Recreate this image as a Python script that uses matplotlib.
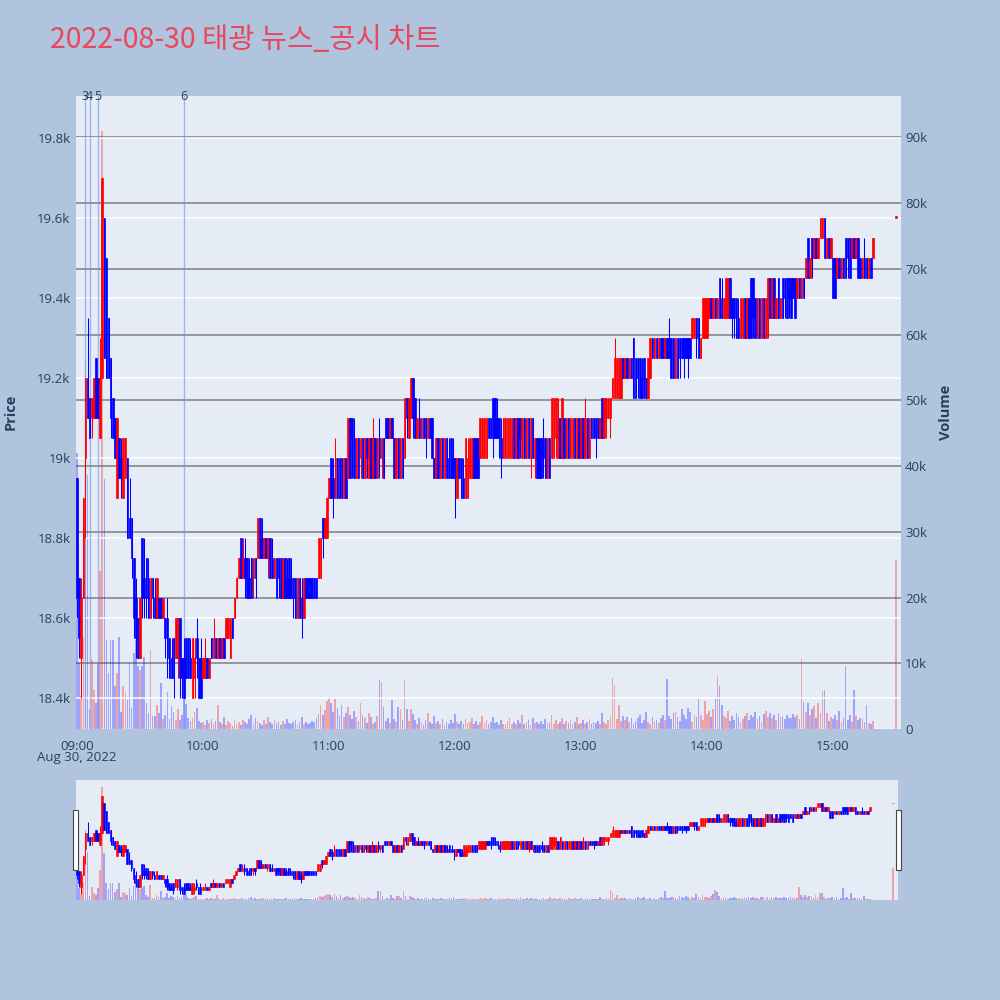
import matplotlib
matplotlib.use("Agg")
import matplotlib.pyplot as plt
import numpy as np
import pandas as pd
from matplotlib.patches import Rectangle
from matplotlib.ticker import FuncFormatter

plt.rcParams['font.family'] = ['Open Sans', 'Noto Sans CJK KR', 'DejaVu Sans']

# 1-minute candles 09:00 - 15:19, then the closing auction print at 15:30
opens = [
    18950, 18700, 18500, 18650, 19000, 19200, 19150, 19100, 19100, 19250,
    19200, 19050, 19200, 19600, 19500, 19350, 19250, 19150, 19100, 18900,
    19050, 19000, 18900, 18950, 19000, 18850, 18850, 18750, 18650, 18600,
    18500, 18800, 18700, 18750, 18700, 18600, 18700, 18650, 18600, 18650,
    18650, 18600, 18600, 18600, 18550, 18500, 18550, 18500, 18500, 18600,
    18500, 18500, 18550, 18550, 18500, 18400, 18450, 18550, 18500, 18500,
    18450, 18450, 18500, 18450, 18550, 18500, 18550, 18500, 18550, 18500,
    18550, 18550, 18550, 18500, 18600, 18600, 18650, 18700, 18800, 18700,
    18750, 18750, 18700, 18750, 18700, 18750, 18750, 18850, 18800, 18750,
    18800, 18750, 18800, 18750, 18700, 18750, 18750, 18750, 18650, 18750,
    18700, 18750, 18700, 18700, 18700, 18600, 18700, 18650, 18600, 18700,
    18700, 18700, 18700, 18700, 18700, 18700, 18700, 18850, 18800, 18800,
    18900, 19000, 18950, 18900, 19000, 19000, 19000, 18900, 19000, 18950,
    19100, 19100, 19050, 18950, 19050, 19000, 19050, 18950, 19050, 18950,
    19050, 18950, 19050, 18950, 19050, 19000, 19050, 19100, 19100, 19050,
    19100, 19050, 18950, 19050, 18950, 19050, 19000, 19150, 19050, 19100,
    19200, 19150, 19050, 19100, 19050, 19100, 19100, 19050, 19100, 19100,
    19000, 18950, 19050, 18950, 19050, 18950, 19050, 19000, 19050, 19000,
    19000, 18900, 19000, 19000, 18950, 18900, 18900, 18950, 18950, 19050,
    19050, 19050, 19000, 19000, 19000, 19000, 19100, 19100, 19150, 19150,
    19100, 19100, 19050, 19000, 19000, 19000, 19000, 19000, 19100, 19000,
    19100, 19100, 19000, 19100, 19000, 19100, 19000, 19100, 19000, 19050,
    19050, 19050, 19050, 19050, 18950, 19050, 19000, 19000, 19050, 19000,
    19100, 19000, 19100, 19000, 19100, 19000, 19000, 19100, 19000, 19100,
    19000, 19100, 19000, 19100, 19000, 19100, 19100, 19100, 19100, 19050,
    19150, 19050, 19100, 19100, 19100, 19150, 19150, 19150, 19150, 19150,
    19250, 19200, 19250, 19200, 19250, 19300, 19250, 19250, 19250, 19200,
    19250, 19200, 19150, 19200, 19300, 19250, 19300, 19250, 19300, 19300,
    19250, 19300, 19300, 19300, 19300, 19200, 19300, 19300, 19300, 19300,
    19300, 19300, 19300, 19300, 19300, 19350, 19350, 19250, 19300, 19300,
    19300, 19350, 19400, 19350, 19400, 19350, 19450, 19400, 19350, 19350,
    19350, 19450, 19400, 19400, 19400, 19350, 19300, 19300, 19400, 19300,
    19400, 19450, 19450, 19400, 19300, 19400, 19300, 19400, 19300, 19350,
    19450, 19350, 19450, 19350, 19450, 19350, 19450, 19450, 19450, 19450,
    19450, 19450, 19450, 19400, 19450, 19400, 19450, 19450, 19550, 19450,
    19550, 19500, 19550, 19500, 19550, 19550, 19600, 19500, 19550, 19500,
    19500, 19500, 19450, 19500, 19450, 19500, 19550, 19550, 19550, 19500,
    19550, 19500, 19550, 19500, 19450, 19500, 19500, 19450, 19500, 19500,
    19600,
]
closes = [
    18650, 18550, 18650, 18900, 19200, 19100, 19050, 19150, 19200, 19100,
    19100, 19200, 19700, 19250, 19200, 19200, 19100, 19050, 19000, 19100,
    18950, 18950, 19050, 19050, 18800, 18800, 18750, 18600, 18550, 18500,
    18650, 18650, 18650, 18650, 18600, 18700, 18650, 18600, 18700, 18600,
    18600, 18650, 18550, 18500, 18450, 18450, 18450, 18600, 18600, 18450,
    18450, 18400, 18450, 18450, 18450, 18550, 18500, 18500, 18400, 18400,
    18500, 18500, 18450, 18500, 18500, 18550, 18500, 18550, 18500, 18550,
    18500, 18600, 18600, 18600, 18550, 18650, 18700, 18750, 18700, 18750,
    18700, 18650, 18650, 18650, 18750, 18700, 18850, 18750, 18750, 18800,
    18750, 18800, 18700, 18700, 18750, 18650, 18700, 18650, 18750, 18650,
    18650, 18650, 18650, 18650, 18600, 18700, 18600, 18600, 18700, 18650,
    18650, 18650, 18650, 18650, 18650, 18800, 18800, 18800, 18850, 18900,
    18950, 18900, 18900, 19000, 18900, 18900, 18900, 19000, 18900, 19100,
    18950, 19050, 18950, 19050, 18950, 19050, 18950, 19050, 19000, 19050,
    18950, 19050, 18950, 19050, 19000, 19050, 18950, 19050, 19050, 19100,
    19050, 18950, 19050, 18950, 19050, 18950, 19150, 19100, 19150, 19200,
    19100, 19050, 19100, 19050, 19100, 19050, 19050, 19100, 19050, 19000,
    18950, 19050, 18950, 19050, 18950, 19050, 18950, 18950, 18950, 18950,
    18950, 19000, 18950, 18900, 18900, 19050, 19000, 19050, 19050, 18950,
    18950, 18950, 19100, 19100, 19100, 19100, 19050, 19050, 19050, 19050,
    19050, 19050, 19000, 19100, 19100, 19100, 19100, 19100, 19000, 19100,
    19000, 19050, 19100, 19000, 19100, 19000, 19100, 19000, 19050, 18950,
    18950, 18950, 19000, 18950, 19050, 18950, 19150, 19150, 19150, 19100,
    19000, 19150, 19000, 19100, 19000, 19100, 19100, 19000, 19100, 19000,
    19100, 19000, 19100, 19000, 19100, 19050, 19050, 19050, 19050, 19100,
    19050, 19150, 19150, 19150, 19150, 19200, 19250, 19250, 19250, 19250,
    19200, 19250, 19200, 19250, 19200, 19150, 19150, 19200, 19150, 19150,
    19200, 19150, 19250, 19300, 19250, 19300, 19250, 19300, 19250, 19250,
    19300, 19250, 19250, 19200, 19200, 19300, 19200, 19250, 19250, 19250,
    19250, 19250, 19250, 19350, 19350, 19300, 19250, 19300, 19400, 19400,
    19400, 19400, 19350, 19400, 19350, 19400, 19350, 19350, 19400, 19450,
    19450, 19350, 19350, 19350, 19300, 19300, 19400, 19400, 19300, 19400,
    19300, 19300, 19350, 19300, 19400, 19300, 19400, 19300, 19400, 19450,
    19350, 19450, 19350, 19400, 19350, 19400, 19350, 19400, 19350, 19400,
    19350, 19400, 19350, 19450, 19400, 19450, 19400, 19500, 19450, 19500,
    19500, 19550, 19500, 19550, 19600, 19600, 19500, 19550, 19500, 19550,
    19400, 19400, 19500, 19450, 19500, 19450, 19450, 19500, 19450, 19550,
    19500, 19550, 19450, 19450, 19500, 19450, 19450, 19500, 19450, 19550,
    19600,
]
highs = [
    18950, 18700, 18700, 18900, 19200, 19350, 19150, 19150, 19200, 19250,
    19200, 19300, 19700, 19600, 19500, 19350, 19250, 19150, 19100, 19100,
    19050, 19050, 19050, 19050, 19000, 18950, 18850, 18750, 18700, 18600,
    18650, 18800, 18800, 18750, 18750, 18700, 18700, 18700, 18700, 18650,
    18650, 18650, 18600, 18650, 18550, 18550, 18550, 18600, 18600, 18600,
    18500, 18550, 18550, 18550, 18550, 18550, 18550, 18600, 18500, 18550,
    18500, 18550, 18500, 18500, 18550, 18600, 18550, 18550, 18550, 18550,
    18550, 18600, 18600, 18600, 18600, 18650, 18700, 18750, 18800, 18800,
    18800, 18750, 18750, 18750, 18750, 18750, 18850, 18850, 18850, 18800,
    18800, 18800, 18800, 18800, 18750, 18750, 18750, 18750, 18750, 18750,
    18750, 18750, 18750, 18700, 18700, 18700, 18700, 18700, 18700, 18700,
    18700, 18700, 18700, 18700, 18700, 18800, 18800, 18850, 18850, 18900,
    18950, 19000, 19000, 19050, 19000, 19000, 19000, 19000, 19000, 19100,
    19100, 19100, 19100, 19050, 19050, 19050, 19050, 19050, 19050, 19050,
    19050, 19100, 19050, 19050, 19100, 19050, 19050, 19100, 19100, 19100,
    19100, 19050, 19050, 19050, 19050, 19050, 19150, 19150, 19150, 19200,
    19200, 19150, 19100, 19150, 19100, 19100, 19100, 19100, 19100, 19100,
    19000, 19050, 19050, 19050, 19050, 19050, 19050, 19050, 19050, 19050,
    19000, 19000, 19000, 19000, 19000, 19050, 19050, 19050, 19050, 19050,
    19050, 19050, 19100, 19100, 19100, 19100, 19100, 19100, 19150, 19150,
    19150, 19100, 19100, 19100, 19100, 19100, 19100, 19100, 19100, 19100,
    19100, 19100, 19100, 19100, 19100, 19100, 19100, 19100, 19050, 19050,
    19050, 19050, 19100, 19050, 19050, 19050, 19150, 19150, 19150, 19150,
    19100, 19150, 19100, 19100, 19100, 19100, 19100, 19100, 19100, 19100,
    19100, 19100, 19150, 19100, 19100, 19100, 19100, 19100, 19100, 19100,
    19150, 19150, 19150, 19150, 19150, 19200, 19300, 19250, 19250, 19250,
    19250, 19250, 19250, 19250, 19250, 19300, 19250, 19250, 19250, 19250,
    19250, 19200, 19250, 19300, 19300, 19300, 19300, 19300, 19300, 19300,
    19300, 19300, 19350, 19300, 19300, 19300, 19300, 19300, 19300, 19300,
    19300, 19300, 19300, 19350, 19350, 19350, 19350, 19300, 19400, 19400,
    19400, 19400, 19400, 19400, 19400, 19400, 19450, 19450, 19400, 19450,
    19450, 19450, 19400, 19400, 19400, 19400, 19400, 19400, 19400, 19400,
    19400, 19450, 19450, 19400, 19400, 19400, 19400, 19400, 19400, 19450,
    19450, 19450, 19450, 19400, 19450, 19400, 19450, 19450, 19450, 19450,
    19450, 19450, 19450, 19450, 19450, 19450, 19450, 19500, 19550, 19500,
    19550, 19550, 19550, 19550, 19600, 19600, 19600, 19550, 19550, 19550,
    19500, 19500, 19500, 19500, 19500, 19500, 19550, 19550, 19550, 19550,
    19550, 19550, 19550, 19500, 19500, 19550, 19500, 19500, 19500, 19550,
    19600,
]
lows = [
    18600, 18500, 18400, 18650, 18800, 19100, 19050, 19050, 19100, 19100,
    19100, 19050, 19200, 19250, 19200, 19200, 19050, 19050, 19000, 18900,
    18950, 18900, 18900, 18950, 18800, 18800, 18700, 18550, 18500, 18500,
    18500, 18600, 18600, 18600, 18600, 18600, 18600, 18600, 18600, 18600,
    18600, 18600, 18500, 18450, 18450, 18450, 18400, 18500, 18450, 18400,
    18400, 18400, 18450, 18450, 18450, 18400, 18400, 18450, 18400, 18400,
    18450, 18450, 18450, 18450, 18500, 18500, 18500, 18500, 18500, 18500,
    18500, 18550, 18550, 18500, 18550, 18600, 18650, 18700, 18700, 18700,
    18650, 18650, 18650, 18650, 18650, 18650, 18750, 18750, 18750, 18750,
    18750, 18700, 18700, 18700, 18700, 18650, 18650, 18650, 18650, 18650,
    18650, 18650, 18650, 18600, 18600, 18600, 18600, 18550, 18600, 18650,
    18650, 18650, 18650, 18650, 18650, 18700, 18700, 18750, 18800, 18800,
    18900, 18900, 18850, 18900, 18900, 18900, 18900, 18900, 18900, 18950,
    18950, 18950, 18950, 18950, 18950, 18950, 18950, 18950, 18950, 18950,
    18950, 18950, 18950, 18950, 18950, 18950, 18950, 19050, 19050, 19050,
    19050, 18950, 18950, 18950, 18950, 18950, 19000, 19050, 19050, 19100,
    19050, 19050, 19050, 19050, 19050, 19050, 19000, 19050, 19050, 19000,
    18950, 18950, 18950, 18950, 18950, 18950, 18950, 18950, 18950, 18950,
    18850, 18900, 18950, 18900, 18900, 18900, 18900, 18950, 18950, 18950,
    18950, 18950, 19000, 19000, 19000, 19000, 19050, 19050, 19000, 19050,
    19050, 19000, 18950, 19000, 19000, 19000, 19000, 19000, 19000, 19000,
    19000, 19000, 19000, 19000, 19000, 19000, 18950, 19000, 18950, 18950,
    18950, 18950, 18950, 18950, 18950, 18950, 19000, 19000, 19000, 19000,
    19000, 19000, 19000, 19000, 19000, 19000, 19000, 19000, 19000, 19000,
    19000, 19000, 19000, 19000, 19000, 19050, 19050, 19000, 19050, 19050,
    19050, 19050, 19050, 19100, 19050, 19150, 19150, 19150, 19150, 19150,
    19200, 19200, 19200, 19200, 19200, 19150, 19150, 19150, 19150, 19150,
    19150, 19150, 19150, 19200, 19250, 19250, 19250, 19250, 19250, 19250,
    19250, 19250, 19250, 19200, 19200, 19200, 19200, 19200, 19250, 19200,
    19250, 19200, 19250, 19300, 19300, 19250, 19250, 19250, 19300, 19300,
    19300, 19350, 19350, 19350, 19350, 19350, 19350, 19350, 19350, 19350,
    19350, 19350, 19300, 19300, 19300, 19300, 19300, 19300, 19300, 19300,
    19300, 19300, 19300, 19300, 19300, 19300, 19300, 19300, 19300, 19300,
    19350, 19350, 19350, 19350, 19350, 19350, 19350, 19350, 19350, 19350,
    19350, 19400, 19350, 19400, 19400, 19400, 19400, 19450, 19450, 19450,
    19450, 19500, 19500, 19500, 19550, 19550, 19500, 19500, 19500, 19500,
    19400, 19400, 19450, 19450, 19450, 19450, 19450, 19450, 19450, 19500,
    19500, 19500, 19450, 19450, 19450, 19450, 19450, 19450, 19450, 19500,
    19600,
]
volumes = [
    42000, 10000, 5000, 14000, 56000, 38600, 3000, 10500, 6000, 4000,
    10000, 24000, 91000, 38000, 13500, 8500, 13600, 13600, 6600, 8500,
    14000, 2600, 6600, 5600, 4400, 10000, 3200, 11500, 13600, 9600,
    9000, 9600, 11000, 4000, 2500, 12000, 2000, 2000, 3700, 2500,
    7000, 1500, 2200, 5700, 1500, 3500, 2600, 1400, 3000, 1400,
    2100, 4800, 3800, 1600, 1200, 1600, 2600, 3200, 1200, 900,
    1100, 600, 1300, 900, 1500, 700, 1200, 3700, 1000, 800,
    1800, 600, 1200, 900, 500, 1300, 800, 1000, 600, 1400,
    1000, 700, 1500, 2100, 800, 1600, 1200, 900, 600, 1300,
    800, 1900, 1100, 700, 1400, 900, 1000, 600, 1200, 800,
    1500, 900, 700, 1100, 1300, 600, 1000, 1800, 800, 1100,
    700, 900, 1200, 1000, 1600, 2300, 3600, 2100, 2900, 4200,
    4800, 3900, 2600, 4500, 3200, 2000, 3700, 1800, 2400, 3400,
    2200, 1500, 2800, 1900, 1200, 3900, 2100, 1600, 900, 2400,
    1800, 800, 1100, 2000, 7500, 7200, 3400, 1200, 1600, 900,
    4400, 1500, 1000, 3400, 3000, 1300, 7500, 3000, 1200, 3000,
    2300, 1400, 800, 1700, 1100, 600, 1400, 2500, 1000, 800,
    2000, 900, 1200, 700, 1500, 600, 1000, 800, 1300, 900,
    2300, 1100, 700, 1200, 800, 1500, 900, 1000, 1600, 800,
    1200, 600, 1100, 2000, 900, 1400, 700, 1000, 1800, 900,
    1100, 600, 1300, 800, 700, 1200, 1600, 800, 1000, 700,
    1400, 900, 2200, 800, 1000, 1300, 600, 1700, 900, 1100,
    800, 1200, 700, 1500, 900, 1000, 2100, 800, 1300, 700,
    1000, 1600, 800, 1200, 900, 1400, 700, 1100, 1800, 800,
    900, 1300, 700, 1000, 1500, 800, 1100, 900, 1200, 800,
    2500, 1000, 800, 1400, 1800, 7800, 6700, 1500, 3700, 1200,
    2000, 1400, 1900, 1000, 1600, 800, 1200, 1700, 2100, 900,
    1300, 2600, 1100, 800, 1800, 1000, 1400, 900, 1600, 2200,
    1300, 7600, 2000, 1500, 2400, 2600, 1800, 1200, 3000, 2200,
    1500, 3200, 2600, 1000, 2200, 1800, 4600, 2100, 1400, 4200,
    2300, 2700, 1900, 3000, 4600, 8100, 6500, 3600, 2000, 1600,
    2800, 1200, 2000, 1400, 2500, 1900, 1000, 1500, 2000, 2400,
    1300, 2200, 1800, 2600, 1500, 2000, 1100, 2300, 2700, 1900,
    2400, 1600, 2100, 1400, 2500, 1800, 2000, 1500, 2200, 1700,
    1600, 2300, 1800, 2100, 1500, 10700, 4100, 2600, 4000, 2200,
    3000, 3500, 1600, 3900, 2400, 5800, 6000, 2500, 1200, 1800,
    1500, 2200, 1300, 2800, 1100, 1700, 9600, 1400, 2200, 1000,
    6000, 2000, 1400, 1600, 1500, 1100, 3600, 900, 800, 1200,
    25700,
]

# news / disclosure markers
news_times = ['09:04', '09:06', '09:10', '09:51']
news_labels = ['3', '4', '5', '6']

times = list(pd.date_range('2022-08-30 09:00', '2022-08-30 15:19', freq='min'))
times.append(pd.Timestamp('2022-08-30 15:30'))
day_start = times[0]

def to_min(t):
    return (t - day_start).total_seconds() / 60.0

x = np.array([to_min(t) for t in times])
o = np.array(opens, dtype=float)
c = np.array(closes, dtype=float)
h = np.array(highs, dtype=float)
l = np.array(lows, dtype=float)
v = np.array(volumes, dtype=float)

up = c >= o
cand_col = np.where(up, 'red', 'blue')
vol_col = [(1, 0, 0, 0.3) if u else (0, 0, 1, 0.3) for u in up]

BG = '#e5ecf6'
FONT_C = '#2a3f5f'
P_LIM = (18322, 19905)
V_LIM = (0, 96300)
X_LIM = (-0.5, 392.4)

fig = plt.figure(figsize=(10, 10), dpi=100)
fig.patch.set_facecolor('#b0c4de')


def draw_panel(ax_v, ax_p, lw, body_w):
    ax_v.set_facecolor(BG)
    ax_v.bar(x, v, width=0.8, color=vol_col, linewidth=0, zorder=2)
    ax_p.vlines(x, l, h, colors=cand_col, lw=0.75, zorder=3)
    ax_p.bar(x, np.maximum(np.abs(c - o), 5), bottom=np.minimum(o, c), width=body_w,
             color=cand_col, edgecolor=cand_col, linewidth=lw, zorder=4)
    ax_v.set_xlim(*X_LIM)
    ax_v.set_ylim(*V_LIM)
    ax_p.set_ylim(*P_LIM)
    for a in (ax_v, ax_p):
        for s in a.spines.values():
            s.set_visible(False)


# main panel: volume axis underneath, price axis on top so candles cover bars
ax_vol = fig.add_axes([0.076, 0.271, 0.825, 0.633])
ax_pr = ax_vol.twinx()
draw_panel(ax_vol, ax_pr, 0.5, 0.75)

ax_vol.yaxis.tick_right()
ax_vol.set_yticks(np.arange(0, 90001, 10000))
ax_vol.yaxis.set_major_formatter(FuncFormatter(lambda val, p: '0' if val == 0 else f'{val/1000:g}k'))
ax_vol.grid(axis='y', color='#8f8f8f', lw=1.3, zorder=0)
ax_vol.set_axisbelow(True)
ax_vol.axhline(0, color='white', lw=2, zorder=1)

ax_pr.yaxis.tick_left()
ax_pr.set_yticks(np.arange(18400, 19801, 200))
ax_pr.yaxis.set_major_formatter(FuncFormatter(lambda val, p: f'{val/1000:g}k'))
ax_pr.grid(axis='y', color='white', lw=1.1)
ax_pr.set_axisbelow(True)

hour_ticks = [60 * i for i in range(7)]
ax_vol.set_xticks(hour_ticks)
ax_vol.set_xticklabels([f'{9 + i:02d}:00' for i in range(7)])
for a in (ax_vol, ax_pr):
    a.tick_params(length=0, labelsize=9.5, labelcolor=FONT_C)
ax_vol.tick_params(axis='x', pad=8)
ax_vol.tick_params(axis='y', pad=3)
ax_pr.tick_params(axis='y', pad=4)
fig.text(0.077, 0.242, 'Aug 30, 2022', ha='center', va='center', fontsize=9.5, color=FONT_C)

# vertical news lines with numbers above the plot
for t, lab in zip(news_times, news_labels):
    xm = to_min(pd.Timestamp('2022-08-30 ' + t))
    ax_pr.axvline(xm, color='#6f8ff0', lw=1, alpha=0.6, zorder=2.5)
    ax_pr.text(xm, 1.0, lab, transform=ax_pr.get_xaxis_transform(), ha='center', va='center',
               fontsize=9, color=FONT_C, clip_on=False)

fig.text(0.011, 0.588, 'Price', rotation=90, ha='center', va='center', fontsize=10.5,
         fontweight='bold', color=FONT_C)
fig.text(0.946, 0.588, 'Volume', rotation=90, ha='center', va='center', fontsize=10.5,
         fontweight='bold', color=FONT_C)

fig.text(0.05, 0.96, '2022-08-30 태광 뉴스_공시 차트', ha='left', va='center', fontsize=20.5,
         color='#e8475e', family=['Noto Sans CJK KR', 'DejaVu Sans'])

# range slider overview
ax_sv = fig.add_axes([0.076, 0.10, 0.822, 0.12])
ax_sp = ax_sv.twinx()
draw_panel(ax_sv, ax_sp, 0.4, 0.75)
for a in (ax_sv, ax_sp):
    a.set_xticks([])
    a.set_yticks([])

for hx in (0.0725, 0.8955):
    fig.patches.append(Rectangle((hx, 0.13), 0.005, 0.06, transform=fig.transFigure,
                                 facecolor='white', edgecolor='#444444', lw=0.8, zorder=10))

fig.savefig('out.png', dpi=100, facecolor=fig.get_facecolor())
